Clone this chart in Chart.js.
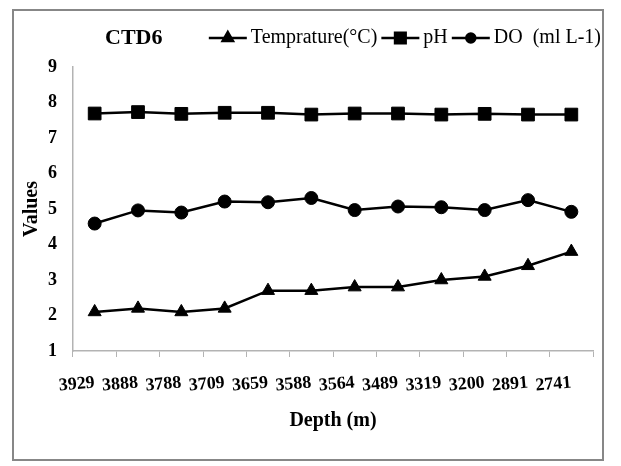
<!DOCTYPE html>
<html>
<head>
<meta charset="utf-8">
<script src="https://cdn.jsdelivr.net/npm/chart.js@4.4.1/dist/chart.umd.min.js"></script>
<style>
  html, body { margin: 0; padding: 0; background: #fff; }
  #wrap { width: 621px; height: 466px; }
</style>
</head>
<body>
<div id="wrap"><canvas id="ctdChart" width="621" height="466"></canvas></div>
<script>
// values
var depths = ['3929', '3888', '3788', '3709', '3659', '3588', '3564', '3489', '3319', '3200', '2891', '2741'];
var temperature = [2.1, 2.2, 2.1, 2.2, 2.7, 2.7, 2.8, 2.8, 3.0, 3.1, 3.4, 3.8];
var ph = [7.69, 7.73, 7.68, 7.71, 7.71, 7.66, 7.69, 7.69, 7.66, 7.68, 7.66, 7.66];
var dissolvedOxygen = [4.59, 4.96, 4.9, 5.21, 5.19, 5.31, 4.97, 5.07, 5.05, 4.97, 5.25, 4.92];
var yTicks = [1, 9];

var serif = "'Liberation Serif', 'Times New Roman', serif";

// white card + grey frame, like the excel export
var framePlugin = {
    id: 'frame',
    beforeDraw: function(chart) {
        var ctx = chart.ctx;
        ctx.save();
        ctx.fillStyle = '#fff';
        ctx.fillRect(0, 0, chart.width, chart.height);
        ctx.strokeStyle = '#878787';
        ctx.lineWidth = 2;
        ctx.strokeRect(13, 10, 590, 450);
        ctx.restore();
    }
};

// leave a bit more room under the legend row before the plot starts
var legendGap = {
    id: 'legendGap',
    beforeLayout: function(chart) {
        var lg = chart.legend;
        if (lg && !lg._gapPatched) {
            var fit = lg.fit;
            lg.fit = function() {
                fit.call(this);
                this.height += 9;
            };
            lg._gapPatched = true;
        }
    }
};

// legend swatch = line with the marker on it, plus the CTD6 label on the same row
var legendMarkers = {
    id: 'legendMarkers',
    afterDraw: function(chart) {
        var ctx = chart.ctx;
        var boxes = chart.legend.legendHitBoxes;
        var styles = [['triangle', 6], ['rect', 7.5], ['circle', 4.5]];
        ctx.save();
        boxes.forEach(function(b, i) {
            var cy = b.top + b.height / 2;
            ctx.strokeStyle = '#000';
            ctx.lineWidth = 2.5;
            ctx.beginPath();
            ctx.moveTo(b.left, cy);
            ctx.lineTo(b.left + 38, cy);
            ctx.stroke();
            ctx.fillStyle = '#000';
            Chart.helpers.drawPoint(ctx, { pointStyle: styles[i][0], radius: styles[i][1], borderWidth: 1 }, b.left + 19, cy);
            ctx.fill();
        });
        if (boxes.length) {
            ctx.font = 'bold 22px ' + serif;
            ctx.textBaseline = 'middle';
            ctx.fillStyle = '#000';
            ctx.fillText('CTD6', 105, boxes[0].top + boxes[0].height / 2);
        }
        ctx.restore();
    }
};

var ctx = document.getElementById('ctdChart').getContext('2d');
var chart = new Chart(ctx, {
    type: 'line',
    data: {
        labels: depths,
        datasets: [{
            label: 'Temprature(°C)',
            data: temperature,
            borderColor: '#000',
            backgroundColor: '#000',
            borderWidth: 2.5,
            pointStyle: 'triangle',
            pointRadius: 7.5,
            pointBorderWidth: 1
        },
        {
            label: 'pH',
            data: ph,
            borderColor: '#000',
            backgroundColor: '#000',
            borderWidth: 2.5,
            pointStyle: 'rect',
            pointRadius: 9,
            pointBorderWidth: 1
        },
        {
            label: 'DO  (ml L-1)',
            data: dissolvedOxygen,
            borderColor: '#000',
            backgroundColor: '#000',
            borderWidth: 2.5,
            pointStyle: 'circle',
            pointRadius: 6.5,
            pointBorderWidth: 1
        }]
    },
    options: {
        responsive: false,
        animation: false,
        layout: { padding: { left: 0, right: 16, top: 24, bottom: 0 } },
        plugins: {
            tooltip: { enabled: false },
            legend: {
                position: 'top',
                align: 'end',
                labels: {
                    font: { family: serif, size: 20 },
                    color: '#000',
                    boxWidth: 32,
                    boxHeight: 3,
                    padding: 4,
                    generateLabels: function(chart) {
                        return chart.data.datasets.map(function(ds, i) {
                            return {
                                text: ds.label,
                                fillStyle: 'rgba(0,0,0,0)',
                                strokeStyle: 'rgba(0,0,0,0)',
                                lineWidth: 0,
                                fontColor: '#000',
                                datasetIndex: i
                            };
                        });
                    }
                }
            }
        },
        scales: {
            x: {
                offset: true,
                afterFit: function(s) { s.height = 115; },
                grid: {
                    display: true,
                    drawOnChartArea: false,
                    drawTicks: true,
                    tickLength: 6,
                    color: '#b3b3b3',
                    offset: true
                },
                border: { color: '#b3b3b3', width: 1.5 },
                ticks: {
                    font: { family: serif, size: 18, weight: 'bold' },
                    color: '#000',
                    minRotation: 5,
                    maxRotation: 5,
                    autoSkip: false,
                    padding: 15
                },
                title: {
                    display: true,
                    text: 'Depth (m)',
                    font: { family: serif, size: 20, weight: 'bold' },
                    color: '#000',
                    padding: { top: 0, bottom: 33 }
                }
            },
            y: {
                min: yTicks[0],
                max: yTicks[1],
                afterFit: function(s) { s.width = 73; },
                grid: { display: false, drawTicks: false },
                border: { color: '#b3b3b3', width: 1.5 },
                ticks: {
                    stepSize: 1,
                    font: { family: serif, size: 18, weight: 'bold' },
                    color: '#000',
                    padding: 16
                },
                title: {
                    display: true,
                    text: 'Values',
                    font: { family: serif, size: 20, weight: 'bold' },
                    color: '#000',
                    padding: { top: 20, bottom: 0 }
                }
            },
            yRight: {
                position: 'right',
                display: true,
                min: 0,
                max: 1,
                afterFit: function(s) { s.width = 12; },
                grid: { display: false, drawTicks: false },
                border: { display: false },
                ticks: { display: false }
            }
        }
    },
    plugins: [framePlugin, legendGap, legendMarkers]
});
</script>
</body>
</html>
